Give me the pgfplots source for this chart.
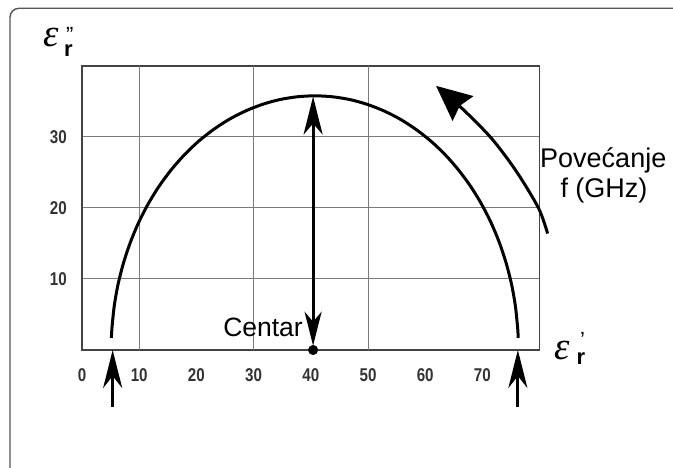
\documentclass[border=0pt]{standalone}
\usepackage{fontspec}
\setmainfont{Liberation Sans}
\usepackage{pgfplots}
\pgfplotsset{compat=1.18}
\usetikzlibrary{arrows.meta}
\newfontfamily\tickfont[FakeStretch=0.82]{Liberation Sans}
\newfontfamily\epsfont{Liberation Serif}
\definecolor{framegray}{HTML}{555555}
\definecolor{gridgray}{HTML}{7A7A7A}
\definecolor{axisgray}{HTML}{444444}
\definecolor{tickgray}{HTML}{333333}
\newcommand{\epsbig}{\epsfont\itshape\fontsize{39bp}{39bp}\selectfont ε}
\begin{document}
\begin{tikzpicture}[x=1bp,y=1bp]
\useasboundingbox (-82,-118) rectangle (591,350);
\draw[framegray, line width=1.4bp, rounded corners=9bp] (-72,-130) -- (-72,341.7) -- (600,341.7);
\begin{axis}[
  scale only axis, width=457.6bp, height=284bp,
  xmin=0, xmax=80, ymin=0, ymax=40,
  clip=false,
  axis line style={axisgray, line width=1.5bp},
  xtick={0,10,...,70}, ytick={10,20,30},
  major tick length=0pt,
  ymajorgrids,
  extra x ticks={10,30,50}, extra x tick labels={}, extra x tick style={grid=major},
  grid style={gridgray, line width=1bp},
  /pgf/number format/assume math mode=true,
  tick label style={font=\tickfont\bfseries\fontsize{18.5bp}{18.5bp}\selectfont, text=tickgray, inner sep=0pt},
  xticklabel style={anchor=north, yshift=-18.5bp},
  yticklabel style={anchor=east, xshift=-15bp},
]
\addplot[black, line width=3bp, smooth] coordinates {
(5.14,1.70) (5.24,3.12) (5.64,6.22) (6.31,9.27) (7.25,12.24) (8.44,15.13) (9.87,17.90) (11.54,20.53) (13.43,23.01) (15.53,25.31) (17.82,27.42) (20.28,29.33) (22.90,31.00) (25.65,32.45) (28.52,33.64) (31.49,34.58) (34.52,35.26) (37.60,35.66) (40.7,35.8) (43.80,35.66) (46.88,35.26) (49.91,34.58) (52.88,33.64) (55.75,32.45) (58.50,31.00) (61.12,29.33) (63.58,27.42) (65.87,25.31) (67.97,23.01) (69.86,20.53) (71.53,17.90) (72.96,15.13) (74.15,12.24) (75.09,9.27) (75.76,6.22) (76.16,3.12) (76.26,1.70)
};
\addplot[black, line width=3bp, {Stealth[length=34bp,width=17bp,inset=10bp]}-{Stealth[length=38bp,width=19bp,inset=11bp]}] coordinates {(40.4,0.6) (40.4,35.7)};
\addplot[black, only marks, mark=*, mark size=4.8bp] coordinates {(40.4,0)};
\addplot[black, line width=3bp, -{Stealth[length=38bp,width=19bp,inset=12bp]}] coordinates {(5.36,-8.0) (5.36,0)};
\addplot[black, line width=3bp, -{Stealth[length=38bp,width=19bp,inset=12bp]}] coordinates {(76.2,-8.0) (76.2,0)};
\addplot[black, line width=3bp, smooth, -{Stealth[length=35bp,width=32bp,inset=4bp]}] coordinates {(81.4,16.4) (79.8,20.0) (75.9,25.2) (71.6,29.8) (66.6,33.9) (61.9,37.2)};
\end{axis}
% axis labels (one text each)
\node[anchor=base west, inner sep=0, font=\fontsize{22bp}{22bp}\selectfont] at (-39,303)
  {\makebox[0pt][l]{\epsbig}\hspace{21bp}\makebox[0pt][l]{\raisebox{-10bp}{\bfseries r}}\hspace{2bp}\raisebox{4.2bp}{\symbol{34}}};
\node[anchor=base west, inner sep=0, font=\fontsize{22bp}{22bp}\selectfont] at (472.5,-10)
  {\makebox[0pt][l]{\epsbig}\hspace{22bp}\makebox[0pt][l]{\raisebox{-5bp}{\bfseries r}}\hspace{3.5bp}\raisebox{12.2bp}{\symbol{39}}};
% annotations
\node[anchor=base east, inner sep=0, font=\fontsize{26.5bp}{26.5bp}\selectfont] at (221,13) {Centar};
\node[anchor=base west, inner sep=0, font=\fontsize{27bp}{27bp}\selectfont] at (458,182) {Povećanje};
\node[anchor=base, inner sep=0, font=\fontsize{27bp}{27bp}\selectfont] at (522,152) {f (GHz)};
\end{tikzpicture}
\end{document}
